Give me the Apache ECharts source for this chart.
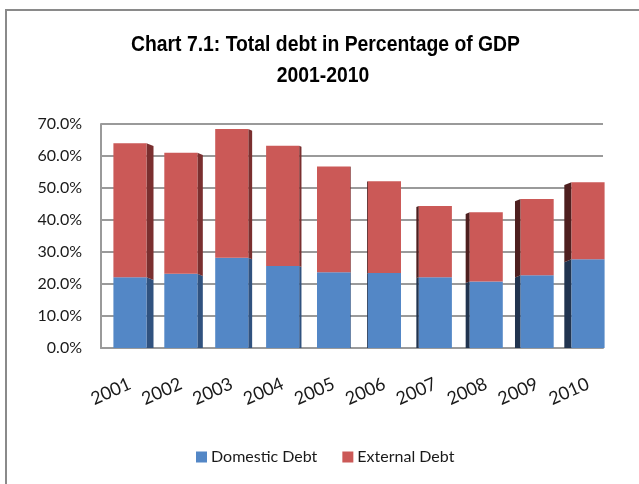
<!DOCTYPE html>
<html>
<head>
<meta charset="utf-8">
<script src="https://cdn.jsdelivr.net/npm/echarts@6/dist/echarts.min.js"></script>
<style>
  html, body { margin: 0; padding: 0; background: #fff; }
  #chart { width: 639px; height: 484px; }
</style>
</head>
<body>
<div id="chart"></div>
<script>
// Debt as a share of GDP (%), by year
const years = ['2001', '2002', '2003', '2004', '2005', '2006', '2007', '2008', '2009', '2010'];
const domesticDebt = [22.1, 23.2, 28.2, 25.6, 23.7, 23.4, 22.1, 20.8, 22.7, 27.7];
const externalDebt = [41.9, 37.8, 40.2, 37.6, 33.0, 28.7, 22.3, 21.6, 23.9, 24.1];
const yTicks = [0, 10, 20, 30, 40, 50, 60, 70];

const seriesNames = ['Domestic Debt', 'External Debt'];
const frontColors = ['#5387c6', '#cb5957'];
const sideRight = ['#30527f', '#7a2f2f'];
const sideLeft = ['#21344f', '#4e1f1f'];

// stacked segments: [categoryIndex, base, top]
const domesticRows = years.map((y, i) => [i, 0, domesticDebt[i]]);
const externalRows = years.map((y, i) => [i, domesticDebt[i], domesticDebt[i] + externalDebt[i]]);

const VANISH_X = 356;   // horizontal point the bar side faces recede toward
const DEPTH_K = 0.031;

function makeRender(k) {
  return function (params, api) {
    const idx = api.value(0);
    const base = api.coord([idx, api.value(1)]);
    const top = api.coord([idx, api.value(2)]);
    const bw = api.size([1, 0])[0] * 0.65;
    const x0 = base[0] - bw / 2, x1 = base[0] + bw / 2;
    const dx = (VANISH_X - base[0]) * DEPTH_K;
    const dy = Math.abs(dx) * 0.4;
    const children = [];
    if (Math.abs(dx) > 0.6) {
      const xe = dx > 0 ? x1 : x0;
      children.push({
        type: 'polygon',
        shape: { points: [[xe, top[1]], [xe + dx, top[1] + dy], [xe + dx, base[1] + (k === 0 ? 0 : dy)], [xe, base[1]]] },
        style: { fill: dx > 0 ? sideRight[k] : sideLeft[k] }
      });
    }
    children.push({
      type: 'rect',
      shape: { x: x0, y: top[1], width: bw, height: base[1] - top[1] },
      style: { fill: frontColors[k] }
    });
    return { type: 'group', children: children };
  };
}

// condensed bold title: a regular bold face squeezed horizontally to a fixed line width
const titleLines = ['Chart 7.1: Total debt in Percentage of GDP', '2001-2010'];
const titleFont = 'bold 22px "Liberation Sans"';
const measureCtx = document.createElement('canvas').getContext('2d');
measureCtx.font = titleFont;
const titleScale = 389 / measureCtx.measureText(titleLines[0]).width;

const chart = echarts.init(document.getElementById('chart'), null, { renderer: 'canvas' });

const labelFont = { fontFamily: 'Lato', fontSize: 16, color: '#1a1a1a' };

chart.setOption({
  animation: false,
  backgroundColor: '#ffffff',
  graphic: [
    { type: 'rect', shape: { x: 6, y: 10, width: 700, height: 600 }, style: { fill: 'none', stroke: '#8a8a8a', lineWidth: 2 }, z: -10 },
    { type: 'text', x: 325.5, y: 34, scaleX: titleScale, style: { text: titleLines[0], fontFamily: 'Liberation Sans', fontWeight: 'bold', fontSize: 22, fill: '#000', textAlign: 'center' } },
    { type: 'text', x: 323, y: 65, scaleX: titleScale, style: { text: titleLines[1], fontFamily: 'Liberation Sans', fontWeight: 'bold', fontSize: 22, fill: '#000', textAlign: 'center' } }
  ],
  legend: {
    data: seriesNames.map((n, i) => ({ name: n, itemStyle: { color: frontColors[i] } })),
    left: 196,
    top: 449,
    padding: 0,
    icon: 'rect',
    itemWidth: 11,
    itemHeight: 11,
    itemGap: 25,
    textStyle: { fontFamily: 'Lato', fontSize: 16, color: '#1a1a1a', padding: [0, 0, 0, -1] }
  },
  grid: [
    { left: 104.5, right: 25.5, top: 124, bottom: 136 },
    { left: 101, right: 36, top: 124, bottom: 136 }
  ],
  xAxis: [
    {
      type: 'category', gridIndex: 0, data: years,
      axisLine: { show: false }, axisTick: { show: false },
      axisLabel: { rotate: 24, margin: 35, interval: 0, fontFamily: 'Lato', fontSize: 18, color: '#1a1a1a' }
    },
    {
      type: 'category', gridIndex: 1, data: years,
      axisLine: { show: true, lineStyle: { color: '#9a9a9a', width: 2 } },
      axisTick: { show: false }, axisLabel: { show: false }
    }
  ],
  yAxis: [
    { type: 'value', gridIndex: 0, min: 0, max: 70, interval: 10, show: false },
    {
      type: 'value', gridIndex: 1, min: yTicks[0], max: yTicks[yTicks.length - 1], interval: 10,
      axisLine: { show: true, lineStyle: { color: '#9a9a9a', width: 2 } },
      axisTick: { show: false },
      splitLine: { show: true, lineStyle: { color: '#9a9a9a', width: 2 } },
      axisLabel: Object.assign({ margin: 19, formatter: v => v.toFixed(1) + '%' }, labelFont)
    }
  ],
  series: [
    {
      name: seriesNames[0], type: 'custom', xAxisIndex: 0, yAxisIndex: 0,
      itemStyle: { color: frontColors[0] },
      encode: { x: 0, y: [1, 2] },
      data: domesticRows, renderItem: makeRender(0), z: 3
    },
    {
      name: seriesNames[1], type: 'custom', xAxisIndex: 0, yAxisIndex: 0,
      itemStyle: { color: frontColors[1] },
      encode: { x: 0, y: [1, 2] },
      data: externalRows, renderItem: makeRender(1), z: 3
    }
  ]
});
</script>
</body>
</html>
